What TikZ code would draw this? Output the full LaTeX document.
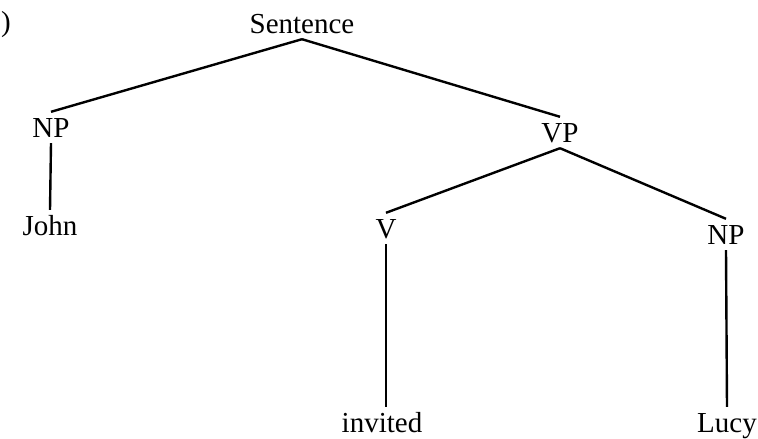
\documentclass[tikz,border=0pt]{standalone}
\usepackage{fontspec}
\setmainfont{Liberation Serif}
\usepackage{tikz}
\usetikzlibrary{calc}
\newcommand{\catnode}[4]{\node[lbl] (#1) at ( #2 , #3 ) {#4};}
\newcommand{\branch}[2]{\draw[edge] (#1) -- (#2);}

\begin{document}
\begin{tikzpicture}[x=1pt,y=-1pt,
    lbl/.style={anchor=base,inner sep=6pt,text height=19pt,text depth=0pt,font=\fontsize{29}{30}\selectfont},
    edge/.style={line width=2.4pt}]
        \useasboundingbox (0,0) rectangle (758,439);
        % bracket at the margin
        \node[lbl,anchor=base east,inner sep=0pt] (brk) at (11,31) {)};
        % top level
        \catnode{s}{302}{33}{Sentence}
        \catnode{np1}{51}{137}{NP}
        \catnode{vp}{560}{142}{VP}
        % under VP
        \catnode{v}{386}{238}{V}
        \catnode{np2}{726}{244}{NP}
        % words
        \catnode{john}{50}{235}{John}
        \catnode{inv}{382}{432}{invited}
        \catnode{lucy}{727}{432}{Lucy}
        % branches
        \branch{s.south}{np1.north}
        \branch{s.south}{vp.north}
        \branch{vp.south}{v.north}
        \branch{vp.south}{np2.north}
        \branch{np1.south}{john.north}
        \branch{v.south}{v.south |- inv.north}
        \branch{np2.south}{lucy.north}
\end{tikzpicture}
\end{document}
